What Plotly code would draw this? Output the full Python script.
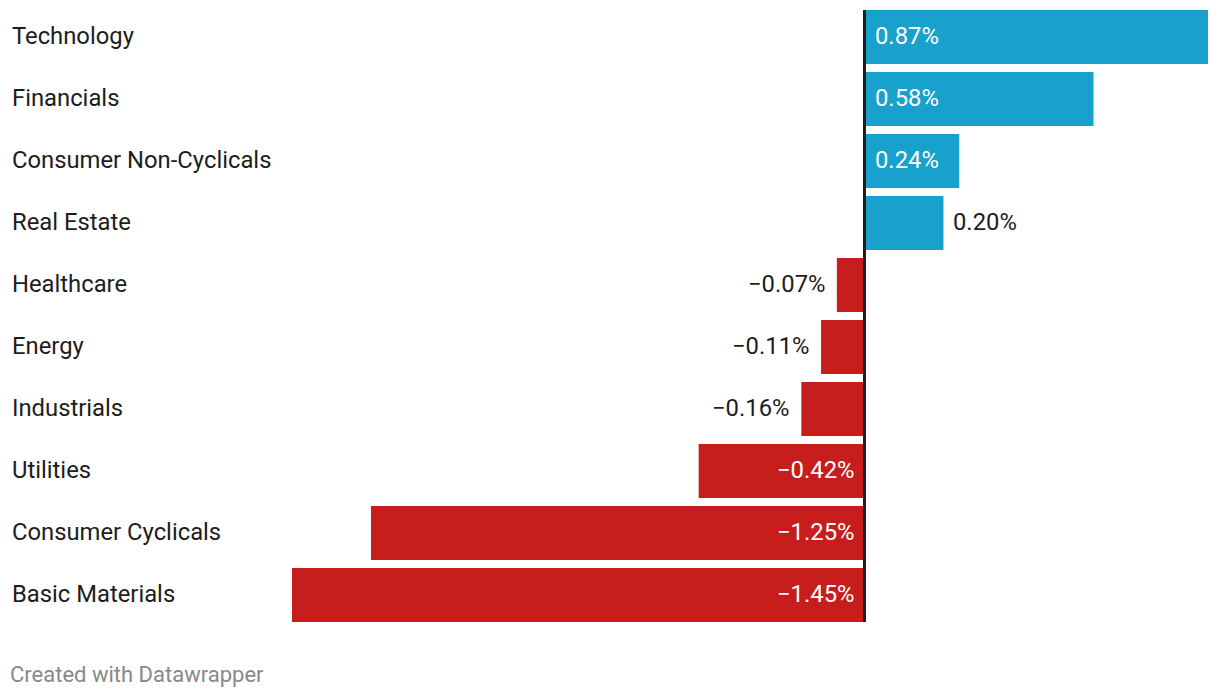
import plotly.graph_objects as go

categories = ["Technology", "Financials", "Consumer Non-Cyclicals", "Real Estate",
              "Healthcare", "Energy", "Industrials", "Utilities",
              "Consumer Cyclicals", "Basic Materials"]
values = [0.87, 0.58, 0.24, 0.20, -0.07, -0.11, -0.16, -0.42, -1.25, -1.45]
value_labels = ["0.87%", "0.58%", "0.24%", "0.20%", "\u22120.07%", "\u22120.11%",
                "\u22120.16%", "\u22120.42%", "\u22121.25%", "\u22121.45%"]
label_inside = [True, True, True, False, False, False, False, True, True, True]

BLUE = "#18a1cd"
RED = "#c71e1d"
TEXT = "#1d1d1d"
FONT = "Roboto"

colors = [BLUE if v >= 0 else RED for v in values]

fig = go.Figure(go.Bar(
    x=values, y=categories, orientation="h",
    marker=dict(color=colors, line=dict(width=0)),
    hoverinfo="skip",
))

annotations = []
for cat in categories:
    annotations.append(dict(
        x=0, xref="paper", y=cat, yref="y", text=cat, showarrow=False,
        xanchor="left", yanchor="middle", xshift=-282, yshift=1,
        font=dict(family=FONT, size=23.8, color=TEXT),
    ))

for cat, v, lab, inside in zip(categories, values, value_labels, label_inside):
    pos = v >= 0
    if inside:
        annotations.append(dict(
            x=0, xref="x", y=cat, yref="y", text=lab, showarrow=False,
            xanchor="left" if pos else "right", yanchor="middle",
            xshift=8 if pos else -9, yshift=1,
            font=dict(family=FONT, size=23.8, color="#ffffff"),
        ))
    else:
        annotations.append(dict(
            x=v, xref="x", y=cat, yref="y", text=lab, showarrow=False,
            xanchor="left" if pos else "right", yanchor="middle",
            xshift=8 if pos else -10, yshift=1,
            font=dict(family=FONT, size=23.8, color=TEXT),
        ))

annotations.append(dict(
    x=0, xref="paper", y=0, yref="paper", text="Created with Datawrapper",
    showarrow=False, xanchor="left", yanchor="middle", xshift=-284, yshift=-48,
    font=dict(family=FONT, size=22, color="#888888"),
))

fig.update_layout(
    width=1220, height=698,
    margin=dict(l=292, r=12, t=6, b=72),
    paper_bgcolor="white", plot_bgcolor="white",
    showlegend=False,
    bargap=8 / 62,
    xaxis=dict(range=[-1.45, 0.87], visible=False, fixedrange=True),
    yaxis=dict(categoryorder="array", categoryarray=categories, autorange="reversed",
               visible=False, fixedrange=True),
    annotations=annotations,
    shapes=[dict(type="line", xref="x", x0=0, x1=0, yref="paper",
                 y0=4 / 620, y1=1 - 4 / 620,
                 line=dict(color=TEXT, width=3), layer="above")],
)

fig.write_html("out.html", config={"displayModeBar": False},
               post_script="document.body.style.margin='0';")
